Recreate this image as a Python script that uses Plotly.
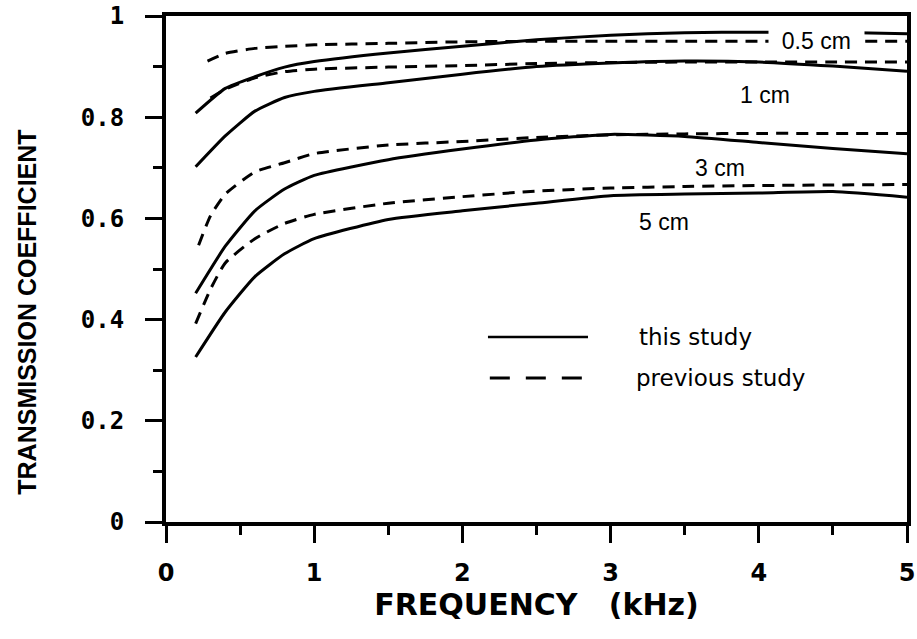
import plotly.graph_objects as go

# ---- data ----
freq_solid = [0.2, 0.4, 0.6, 0.8, 1.0, 1.5, 2.0, 2.5, 3.0, 3.5, 4.0, 4.5, 5.0]
this_05cm = [0.808, 0.857, 0.880, 0.899, 0.910, 0.927, 0.940, 0.953, 0.962, 0.967, 0.968, 0.968, 0.965]
this_1cm = [0.702, 0.763, 0.812, 0.839, 0.851, 0.868, 0.885, 0.900, 0.907, 0.911, 0.909, 0.901, 0.891]
this_3cm = [0.452, 0.545, 0.615, 0.658, 0.685, 0.716, 0.737, 0.755, 0.766, 0.762, 0.750, 0.738, 0.728]
this_5cm = [0.326, 0.415, 0.485, 0.530, 0.560, 0.598, 0.615, 0.630, 0.645, 0.648, 0.650, 0.653, 0.642]

freq_prev_05 = [0.28, 0.4, 0.6, 0.8, 1.0, 1.5, 2.0, 2.5, 3.0, 3.5, 4.0, 4.5, 5.0]
prev_05cm = [0.911, 0.926, 0.936, 0.940, 0.943, 0.946, 0.949, 0.950, 0.950, 0.950, 0.950, 0.950, 0.950]
freq_prev_1 = [0.3, 0.4, 0.6, 0.8, 1.0, 1.5, 2.0, 2.5, 3.0, 3.5, 4.0, 4.5, 5.0]
prev_1cm = [0.838, 0.855, 0.878, 0.890, 0.895, 0.899, 0.902, 0.906, 0.908, 0.909, 0.909, 0.909, 0.909]
freq_prev_3 = [0.22, 0.3, 0.4, 0.6, 0.8, 1.0, 1.5, 2.0, 2.5, 3.0, 3.5, 4.0, 4.5, 5.0]
prev_3cm = [0.547, 0.605, 0.648, 0.692, 0.710, 0.728, 0.745, 0.752, 0.760, 0.765, 0.767, 0.768, 0.768, 0.768]
freq_prev_5 = [0.2, 0.3, 0.4, 0.6, 0.8, 1.0, 1.5, 2.0, 2.5, 3.0, 3.5, 4.0, 4.5, 5.0]
prev_5cm = [0.392, 0.460, 0.512, 0.560, 0.590, 0.608, 0.630, 0.643, 0.654, 0.660, 0.663, 0.665, 0.666, 0.667]

x_ticks = [0, 1, 2, 3, 4, 5]
y_ticks = [0, 0.2, 0.4, 0.6, 0.8, 1]
y_ticktext = ["0", "0.2", "0.4", "0.6", "0.8", "1"]
thickness_labels = ["0.5 cm", "1 cm", "3 cm", "5 cm"]
legend_labels = ["this study", "previous study"]
x_title = "FREQUENCY\u00a0\u00a0\u00a0(kHz)"
y_title = "TRANSMISSION COEFFICIENT"

fig = go.Figure()

solid_style = dict(color="black", width=3, shape="spline", smoothing=0.5)
dash_style = dict(color="black", width=3, dash="12px,8px", shape="spline", smoothing=0.5)

for y in [this_05cm, this_1cm, this_3cm, this_5cm]:
    fig.add_trace(go.Scatter(x=freq_solid, y=y, mode="lines", line=solid_style,
                             showlegend=False, hoverinfo="skip"))
for xs, y in [(freq_prev_05, prev_05cm), (freq_prev_1, prev_1cm),
              (freq_prev_3, prev_3cm), (freq_prev_5, prev_5cm)]:
    fig.add_trace(go.Scatter(x=xs, y=y, mode="lines", line=dash_style,
                             showlegend=False, hoverinfo="skip"))

# curve labels
label_pos = [(4.39, 0.950), (4.04, 0.844), (3.74, 0.700), (3.36, 0.593)]
for txt, (lx, ly) in zip(thickness_labels, label_pos):
    is_top = txt == "0.5 cm"
    fig.add_annotation(x=lx, y=ly, xref="x", yref="y",
                       text=("\u00a0\u00a0" + txt + "\u00a0\u00a0") if is_top else txt,
                       showarrow=False,
                       font=dict(family="Liberation Sans, Arial", size=23, color="black"),
                       bgcolor="white" if is_top else None, borderpad=0)

# hand-drawn style key
fig.add_shape(type="line", xref="paper", yref="paper", x0=0.4345, x1=0.5695,
              y0=0.3656, y1=0.3656, line=dict(color="black", width=2.5))
fig.add_shape(type="line", xref="paper", yref="paper", x0=0.437, x1=0.564,
              y0=0.2846, y1=0.2846, line=dict(color="black", width=3, dash="20px,16px"))
for txt, lx, ly in [(legend_labels[0], 0.636, 0.3656), (legend_labels[1], 0.632, 0.2846)]:
    fig.add_annotation(x=lx, y=ly, xref="paper", yref="paper", text=txt,
                       showarrow=False, xanchor="left", yanchor="middle",
                       font=dict(family="DejaVu Sans", size=23, color="black"))

# y-axis title (placed as in the reference, lower than centre)
fig.add_annotation(x=-0.188, y=0.415, xref="paper", yref="paper", text=y_title,
                   showarrow=False, textangle=-90, xanchor="center", yanchor="middle",
                   font=dict(family="Liberation Sans, Arial", size=25, color="black", weight="bold"))

fig.update_layout(
    width=917, height=639,
    margin=dict(l=166, r=10, t=16, b=117),
    plot_bgcolor="white", paper_bgcolor="white",
    showlegend=False,
)
fig.update_xaxes(
    range=[0, 5], tickvals=x_ticks, ticks="outside", ticklen=17, tickwidth=3,
    tickcolor="black", linecolor="black", linewidth=4, mirror=True,
    showgrid=False, zeroline=False, ticklabelstandoff=9, automargin=False,
    tickfont=dict(family="DejaVu Sans", size=24, color="black", weight="bold"),
    minor=dict(dtick=0.5, ticks="outside", ticklen=9, tickwidth=3, tickcolor="black", showgrid=False),
    title=dict(text=x_title, standoff=8,
               font=dict(family="DejaVu Sans", size=30, color="black", weight="bold")),
)
fig.update_yaxes(
    range=[0, 1], tickvals=y_ticks, ticktext=y_ticktext, ticks="outside", ticklen=17, tickwidth=3,
    tickcolor="black", linecolor="black", linewidth=4, mirror=True,
    showgrid=False, zeroline=False, ticklabelstandoff=16, automargin=False,
    tickfont=dict(family="DejaVu Sans Mono", size=24, color="black", weight="bold"),
    minor=dict(dtick=0.1, ticks="outside", ticklen=9, tickwidth=3, tickcolor="black", showgrid=False),
)

fig.write_html("out.html")
